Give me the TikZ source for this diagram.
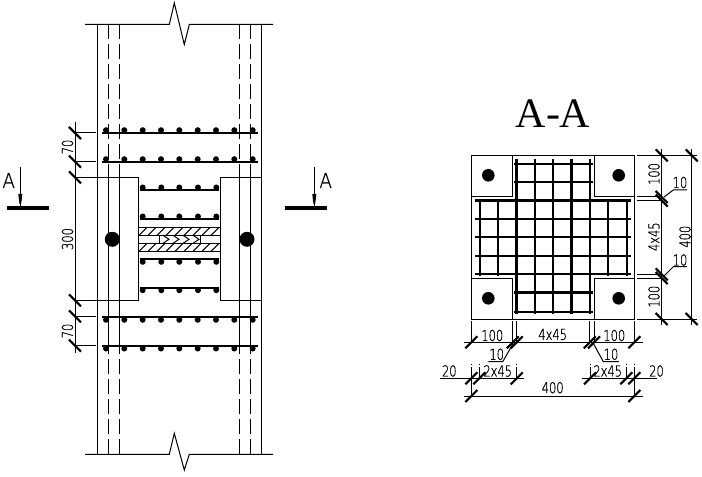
\documentclass[tikz,border=0pt]{standalone}
\usepackage{graphicx}
\usepackage{fontspec}
\setmainfont{DejaVu Sans ExtraLight}[RawFeature={embolden=0.8}]
\newfontfamily\titlefont{Liberation Serif}
\newcommand{\cad}[1]{\scalebox{.76}[1]{\fontsize{11.3pt}{12pt}\selectfont #1}}
\newcommand{\secA}{\scalebox{.9}[1]{\fontsize{15.4pt}{16pt}\selectfont A}}
\tikzset{
  thin line/.style={line width=.75pt,black},
  dash line/.style={line width=.75pt,black,dash pattern=on 11.25pt off 3.75pt},
  main bar/.style={line width=1.7pt,black},
  thick bar/.style={line width=2.3pt,black},
  grid bar/.style={line width=1.6pt,black},
  ticks/.style={line width=1.6pt,black},
  dimtext/.style={inner sep=0pt,outer sep=0pt},
  secbar/.style={line width=2.8pt,black},
}
\begin{document}
\begin{tikzpicture}[x=.75pt,y=-.75pt]
\useasboundingbox (0,0) rectangle (702,477);
% --- elevation: column edges
\foreach \yy/\a/\b/\c in {24.5/3/44.5/top,454.3/433.3/470/bot}{
  \draw[thin line] (85,\yy) -- (169.3,\yy) -- (174.3,\a) -- (184.3,\b) -- (189.3,\yy) -- (273,\yy);
}
\foreach \xx in {97.3,261.3}{\draw[thin line] (\xx,24.5) -- (\xx,454.3);}
\foreach \xx in {108.3,119.3,239.3,250.3}{
  \draw[dash line] (\xx,24.5) -- (\xx,165);
  \draw[thin line] (\xx,165) -- (\xx,347);
  \draw[dash line] (\xx,454.3) -- (\xx,347);
}
% --- plates
\draw[thin line] (75,177.3) -- (138.3,177.3) -- (138.3,300.3) -- (75,300.3);
\draw[thin line] (261.3,177.3) -- (220.3,177.3) -- (220.3,300.3) -- (261.3,300.3);
% --- long bars with dots
\foreach \yy/\d in {132.7/-2.5,161.7/-2.5,317.3/2.5,346/2.5}{
  \draw[main bar] (102.3,\yy) -- (257.7,\yy);
  \foreach \xx in {106,124.3,142.7,161,179.3,197.7,216,234.3,252.7}{
    \fill (\xx,\yy+\d) circle (3);
  }
}
% --- short bars with dots
\foreach \yy/\d in {190/-2.5,219/-2.5,259.3/2.5,287.7/2.5}{
  \draw[main bar] (140,\yy) -- (219,\yy);
  \foreach \xx in {142.7,161.3,179.3,198,216.3}{
    \fill (\xx,\yy+\d) circle (3);
  }
}
% --- core
\foreach \yy in {227.7,235.3,243.3,251.3}{\draw[thin line] (138.3,\yy) -- (220.3,\yy);}
\foreach \yy in {235.3,251.3}{
  \foreach \xx in {139,148,157,166,175,184,193,202,211}{
    \draw[thin line] (\xx,\yy) -- (\xx+7.6,\yy-7.6);
  }
}
\draw[thin line] (159.3,235.3) -- (159.3,243.3);
\draw[thin line] (200.7,235.3) -- (200.7,243.3);
\foreach \xx in {163,173,183,193}{
  \draw[thin line] (\xx,235.3) -- (\xx+6,239.3) -- (\xx,243.3);
}
% --- anchors
\fill (112.3,239.3) circle (7.5);
\fill (247,239.3) circle (7.5);
% --- left dimensions
\draw[thin line] (75,122) -- (75,353);
\foreach \yy in {133,161.7,316.3,345.7}{
  \draw[thin line] (75,\yy) -- (96,\yy);
}
\foreach \yy in {133,161.7,177.3,300.3,316.3,345.7}{
  \draw[ticks] (69,\yy-6) -- (81,\yy+6);
}
\node[dimtext,rotate=90] (d70a) at (67.5,147) {\cad{70}};
\node[dimtext,rotate=90] (d300) at (67.5,239) {\cad{300}};
\node[dimtext,rotate=90] (d70b) at (67.5,331) {\cad{70}};
% --- section marks
\foreach \xx/\l/\r in {20.3/7/49,314.3/285/326.7}{
  \draw[thin line] (\xx,167.3) -- (\xx,207);
  \draw[secbar] (\l,207.7) -- (\r,207.7);
  \fill (\xx-2,194) -- (\xx+2,194) -- (\xx+1.5,199) -- (\xx+.8,204) -- (\xx-.8,204) -- (\xx-1.5,199) -- cycle;
}
\node[dimtext] (secL) at (8.7,180.5) {\secA};
\node[dimtext] (secR) at (325.7,180.5) {\secA};
% --- title
\node[dimtext] (title) at (553,114) {\titlefont\fontsize{31.5pt}{33pt}\selectfont A-A};
% --- section outline
\draw[thin line] (471.3,155.3) rectangle (634.3,319);
\draw[thin line] (512.7,155.3) -- (512.7,196.3) -- (471.3,196.3);
\draw[thin line] (594.3,155.3) -- (594.3,196.3) -- (634.3,196.3);
\draw[thin line] (512.7,319) -- (512.7,278.3) -- (471.3,278.3);
\draw[thin line] (594.3,319) -- (594.3,278.3) -- (634.3,278.3);
\foreach \xx in {488.3,618.7}{\foreach \yy in {175.3,298.3}{\fill (\xx,\yy) circle (6.3);}}
% --- section rebars
\foreach \yy in {163.7,181.7}{\draw[grid bar] (514.3,\yy) -- (592.7,\yy);}
\draw[thick bar] (514.3,292.3) -- (592.7,292.3);
\draw[grid bar] (514.3,312.3) -- (592.7,312.3);
\draw[thick bar] (475.3,200.3) -- (631,200.3);
\foreach \yy in {219,237,255.7}{\draw[grid bar] (475.3,\yy) -- (631,\yy);}
\draw[grid bar] (475.3,274.3) -- (631,274.3);
\foreach \xx in {480,497.7,608.3,626.7}{\draw[grid bar] (\xx,199.3) -- (\xx,276);}
\draw[thick bar] (516.3,159) -- (516.3,314.3);
\draw[thick bar] (571.3,159) -- (571.3,314.3);
\foreach \xx in {535,553,589.7}{\draw[grid bar] (\xx,159) -- (\xx,314.3);}
% --- right dimensions
\foreach \xx in {661.7,691.7}{\draw[thin line] (\xx,149) -- (\xx,325);}
\draw[thin line] (637,155.3) -- (697,155.3);
\draw[thin line] (637,319) -- (697,319);
\foreach \yy in {197,200.7,274.3,278}{\draw[thin line] (637,\yy) -- (662,\yy);}
\foreach \yy in {155.3,197,200.7,274.3,278,319}{\draw[ticks] (655.7,\yy-6) -- (667.7,\yy+6);}
\foreach \yy in {155.3,319}{\draw[ticks] (685.7,\yy-6) -- (697.7,\yy+6);}
\draw[thin line] (664,197) -- (673.3,190) -- (687,190);
\draw[thin line] (664,276) -- (673.3,266.7) -- (687,266.7);
\node[dimtext,rotate=90] (r100a) at (654,174) {\cad{100}};
\node[dimtext,rotate=90] (r445) at (654,236.7) {\cad{4x45}};
\node[dimtext,rotate=90] (r100b) at (654,296.7) {\cad{100}};
\node[dimtext,rotate=90] (r400) at (685,236.7) {\cad{400}};
\node[dimtext] (r10a) at (680,182.5) {\cad{10}};
\node[dimtext] (r10b) at (680,260) {\cad{10}};
% --- bottom dimensions
\foreach \xx in {471.3,512.7,516.7,589.7,594,634.3}{\draw[thin line] (\xx,321) -- (\xx,342.3);}
\draw[thin line] (464.3,342.3) -- (643.3,342.3);
\foreach \xx in {471.3,512.7,516.7,589.7,594,634.3}{\draw[ticks] (\xx-6,342.3+6) -- (\xx+6,342.3-6);}
\draw[thin line] (440,378.3) -- (524.3,378.3);
\draw[thin line] (581.7,378.3) -- (656.7,378.3);
\foreach \xx in {471.3,479.3,516.7,590,626.3,634.3}{
  \draw[thin line] (\xx,363.5) -- (\xx,365);
  \draw[thin line] (\xx,367) -- (\xx,378.3);
  \draw[ticks] (\xx-6,378.3+6) -- (\xx+6,378.3-6);
}
\draw[thin line] (471.3,378.3) -- (471.3,396);
\draw[thin line] (634.3,378.3) -- (634.3,396);
\draw[thin line] (464.3,396) -- (643.3,396);
\foreach \xx in {471.3,634.3}{\draw[ticks] (\xx-6,396+6) -- (\xx+6,396-6);}
\draw[thin line] (488.3,361.7) -- (502.7,361.7) -- (513.3,343.3);
\draw[thin line] (593.3,343.3) -- (603.3,361.7) -- (619,361.7);
\node[dimtext] (b100a) at (492.3,335.5) {\cad{100}};
\node[dimtext] (b445) at (552.7,334.5) {\cad{4x45}};
\node[dimtext] (b100b) at (614.3,335.5) {\cad{100}};
\node[dimtext] (b10a) at (496.7,354.3) {\cad{10}};
\node[dimtext] (b10b) at (611,354.3) {\cad{10}};
\node[dimtext] (b20a) at (449.3,371) {\cad{20}};
\node[dimtext] (b245a) at (497.7,371) {\cad{2x45}};
\node[dimtext] (b245b) at (607.7,371) {\cad{2x45}};
\node[dimtext] (b20b) at (656.5,371) {\cad{20}};
\node[dimtext] (b400) at (552.7,387.7) {\cad{400}};
\end{tikzpicture}
\end{document}
